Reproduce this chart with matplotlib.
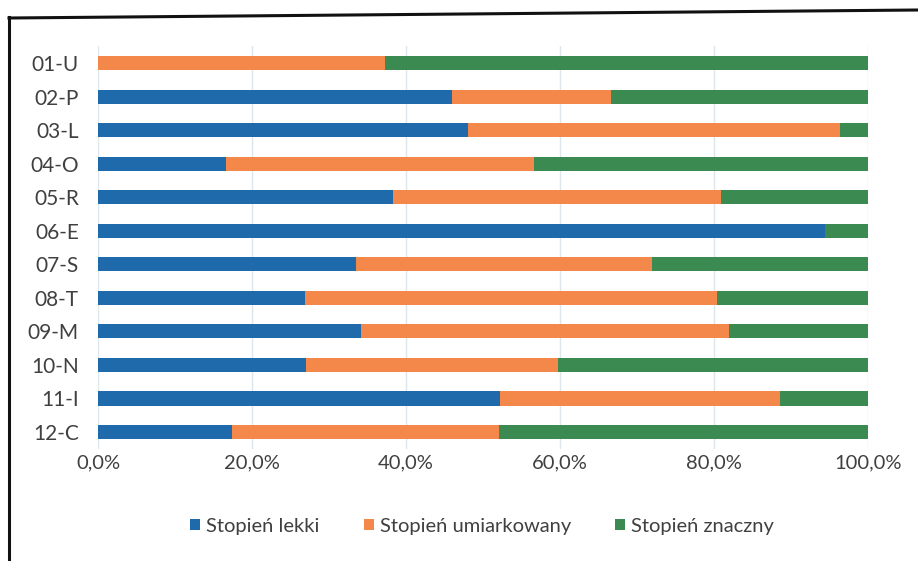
import matplotlib.pyplot as plt
from matplotlib.lines import Line2D
from matplotlib.ticker import FuncFormatter
import numpy as np

plt.rcParams['font.family'] = ['Lato', 'DejaVu Sans']

categories = ['01-U', '02-P', '03-L', '04-O', '05-R', '06-E',
              '07-S', '08-T', '09-M', '10-N', '11-I', '12-C']
lekki = [0.0, 46.0, 48.1, 16.6, 38.3, 94.5, 33.5, 26.8, 34.2, 27.0, 52.2, 17.4]
umiarkowany = [37.3, 20.6, 48.3, 40.0, 42.6, 0.0, 38.4, 53.6, 47.8, 32.7, 36.4, 34.7]
znaczny = [62.7, 33.4, 3.6, 43.4, 19.1, 5.5, 28.1, 19.6, 18.0, 40.3, 11.4, 47.9]
series_names = ['Stopień lekki', 'Stopień umiarkowany', 'Stopień znaczny']
colors = ['#1f6aab', '#f4884b', '#3a8a52']


def pct_formatter(x, pos):
    return '{:.1f}%'.format(x * 100).replace('.', ',')


fig = plt.figure(figsize=(9.18, 5.61), dpi=100)
ax = fig.add_axes([0.1071, 0.200, 0.8382, 0.7175])

y = np.arange(len(categories))
left = np.zeros(len(categories))
for vals, name, col in zip([lekki, umiarkowany, znaczny], series_names, colors):
    v = np.array(vals) / 100.0
    ax.barh(y, v, left=left, height=0.42, color=col, label=name, zorder=3)
    left += v

ax.set_xlim(0, 1)
ax.set_ylim(len(categories) - 0.5, -0.5)
ax.set_yticks(y)
ax.set_yticklabels(categories, fontsize=15, color='#404040')
ax.set_xticks(np.arange(0, 1.01, 0.2))
ax.xaxis.set_major_formatter(FuncFormatter(pct_formatter))
ax.tick_params(axis='x', labelsize=14.5, colors='#404040', length=0, pad=4)
ax.tick_params(axis='y', length=0, pad=14)
ax.grid(axis='x', color='#dde6ea', lw=1, zorder=0)
for s in ax.spines.values():
    s.set_visible(False)

fig.legend(loc='center', bbox_to_anchor=(0.525, 0.062), ncol=3, frameon=False,
           fontsize=14.5, handlelength=0.5, handleheight=0.5, handletextpad=0.3,
           columnspacing=2.2, labelcolor='#404040')

# scanned frame around the chart
fig.add_artist(Line2D([9 / 918, 9 / 918], [1 - 17 / 561, 0], transform=fig.transFigure,
                      color='#111111', lw=2.2))
fig.add_artist(Line2D([9 / 918, 1], [1 - 18 / 561, 1 - 10 / 561], transform=fig.transFigure,
                      color='#111111', lw=2.2))

fig.savefig('out.png', dpi=100)
